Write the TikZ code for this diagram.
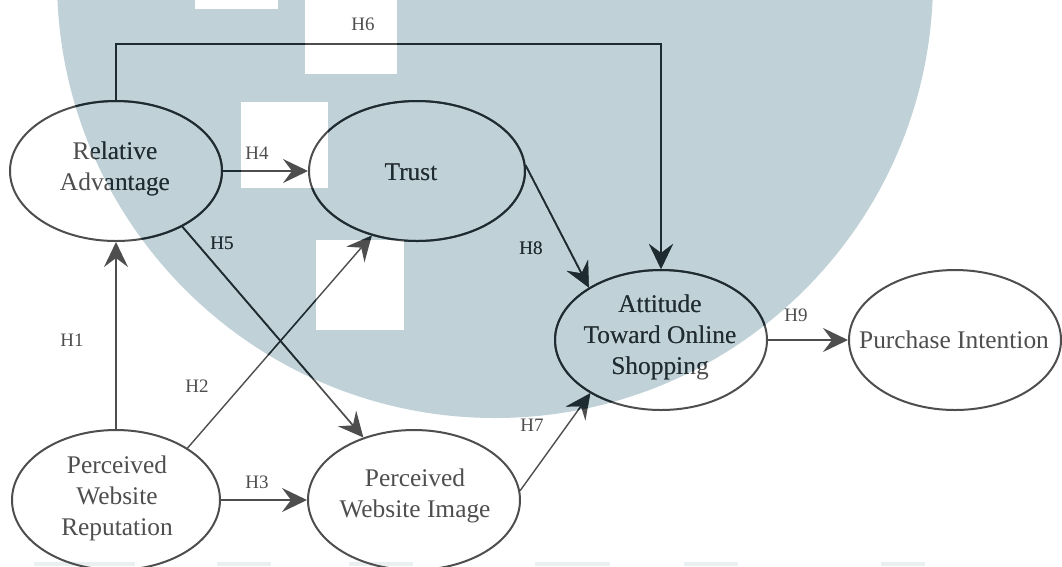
\documentclass[tikz,border=0pt]{standalone}
\usepackage{fontspec}
\setmainfont{Liberation Serif}
\usetikzlibrary{arrows.meta,shapes.geometric}
\definecolor{wm}{RGB}{192,209,216}
\definecolor{wmlight}{RGB}{234,239,242}
\definecolor{lnA}{RGB}{78,78,78}
\definecolor{lnB}{RGB}{30,44,50}
\colorlet{ln}{lnA}
\tikzset{
  ell/.style={draw=ln, line width=2pt, ellipse, minimum width=212pt, minimum height=140pt, inner sep=0pt},
  txt/.style={text=ln, font=\fontsize{25.4}{31}\selectfont, align=center, inner sep=0pt},
  hl/.style={text=ln, font=\fontsize{19}{22}\selectfont, inner sep=0pt},
  arr/.style={draw=ln, line width=1.7pt, -{Stealth[length=25pt,width=24pt,inset=9pt]}},
  thinarr/.style={arr, line width=1.4pt},
}
\newcommand\mydiagram{%
  \node[ell] (ra) at (116,171) {};
  \node[txt] (rat) at (115,169) {Relative\\Advantage};
  \node[ell, minimum width=216pt] (tr) at (417,171) {};
  \node[txt] (trt) at (411,172) {Trust};
  \node[ell] (att) at (661,340) {};
  \node[txt] (attt) at (660,337) {Attitude\\Toward Online\\Shopping};
  \node[ell] (pi) at (955,340) {};
  \node[txt] (pit) at (954,340) {Purchase Intention};
  \node[ell, minimum width=208pt] (pwr) at (116,500) {};
  \node[txt] (pwrt) at (117,498) {Perceived\\Website\\Reputation};
  \node[ell] (pwi) at (414,500) {};
  \node[txt] (pwit) at (415,496) {Perceived\\Website Image};
  \coordinate (h6) at (661,44);
  \draw[arr] (pwr.north) -- (ra.south);
  \draw[thinarr] (pwr.36) -- (tr.-125);
  \draw[arr] (pwr.east) -- (pwi.west);
  \draw[arr] (ra.east) -- (tr.west);
  \draw[arr] (ra.-40) -- (pwi.129);
  \draw[arr] (ra.north) |- (h6) -- (att.north);
  \draw[thinarr] (pwi.5) -- (att.217);
  \draw[arr] (tr.3) -- (att.144);
  \draw[arr] (att.east) -- (pi.west);
  \node[hl] (l1) at (72,340) {H1};
  \node[hl] (l2) at (197,386) {H2};
  \node[hl] (l3) at (257,482) {H3};
  \node[hl] (l4) at (257,153) {H4};
  \node[hl] (l5) at (222,243) {H5};
  \node[hl] (l6) at (363,24) {H6};
  \node[hl] (l7) at (532,425) {H7};
  \node[hl] (l8) at (531,248) {H8};
  \node[hl] (l9) at (796,315) {H9};
}
\begin{document}
\begin{tikzpicture}[x=1pt,y=-1pt]
  \useasboundingbox (0,0) rectangle (1062,566);
  \fill[white] (0,0) rectangle (1062,566);
  % watermark
  \fill[wm] (495,-20) circle[radius=438pt];
  \fill[white] (195,0) rectangle (278,9);
  \fill[white] (305,0) rectangle (397,74);
  \fill[white] (241,102) rectangle (328,188);
  \fill[white] (316,240) rectangle (404,330);
  \foreach \a/\b in {34/135,217/271,349/413,535/610,684/738,881/925}
    \fill[wmlight] (\a,562) rectangle (\b,566);
  % diagram
  \mydiagram
  \begin{scope}[even odd rule]
    \colorlet{ln}{lnB}
    \clip (495,-20) circle[radius=438pt]
      (195,0) rectangle (278,9)
      (305,0) rectangle (397,74)
      (241,102) rectangle (328,188)
      (316,240) rectangle (404,330);
    \mydiagram
  \end{scope}
\end{tikzpicture}
\end{document}
